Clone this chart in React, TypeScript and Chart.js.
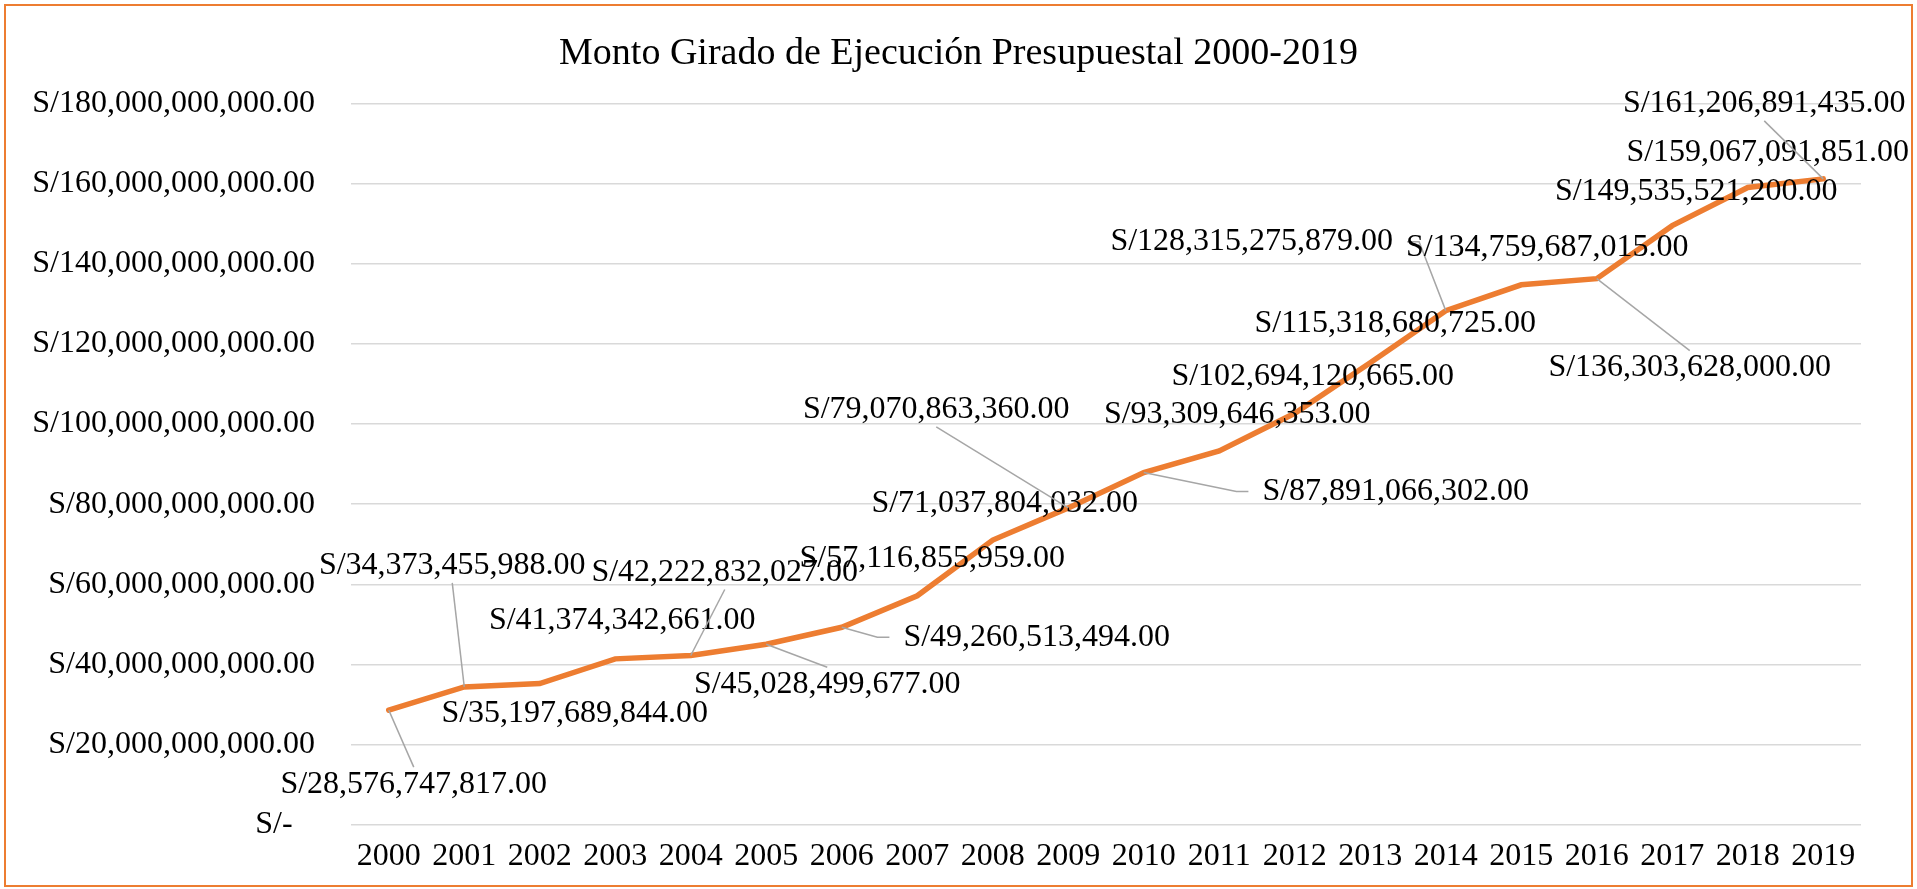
import React, { useEffect, useRef } from "react";
import { Chart, registerables } from "chart.js";

Chart.register(...registerables);

const FONT = '"Liberation Serif", "Times New Roman", serif';

const chartTitle = "Monto Girado de Ejecución Presupuestal 2000-2019";

const years = [
  "2000", "2001", "2002", "2003", "2004", "2005", "2006", "2007", "2008", "2009",
  "2010", "2011", "2012", "2013", "2014", "2015", "2016", "2017", "2018", "2019",
];

const montoGirado = [
  28576747817, 34373455988, 35197689844, 41374342661, 42222832027,
  45028499677, 49260513494, 57116855959, 71037804032, 79070863360,
  87891066302, 93309646353, 102694120665, 115318680725, 128315275879,
  134759687015, 136303628000, 149535521200, 159067091851, 161206891435,
];

const yMin = 0;
const yMax = 180000000000;
const yStep = 20000000000;

// label offsets (px) of each data label centre relative to its point
const labelOffsets: [number, number][] = [
  [25, 74], [-12, -121], [35, 30], [7, -38], [34, -83],
  [61, 40], [195, 10], [15, -37], [12, -36], [-132, -98],
  [252, 19], [18, -36], [18, -37], [25, -39], [-194, -69],
  [26, -37], [93, 89], [24, -34], [20, -35], [-59, -75],
];

function groupDigits(v: number): string {
  return Math.round(v).toString().replace(/\B(?=(\d{3})+(?!\d))/g, ",");
}

function formatSoles(v: number): string {
  if (v === 0) return "S/-  \u2009";
  return "S/" + groupDigits(v) + ".00";
}

const labelPlugin = {
  id: "leaderLabels",
  afterDatasetsDraw(chart: any) {
    const ctx = chart.ctx as CanvasRenderingContext2D;
    const meta = chart.getDatasetMeta(0);
    ctx.save();
    ctx.font = `32px ${FONT}`;
    meta.data.forEach((pt: any, i: number) => {
      const text = formatSoles(montoGirado[i]);
      const [dx, dy] = labelOffsets[i];
      const cx = pt.x + dx;
      const cy = pt.y + dy;
      const w = ctx.measureText(text).width;
      const h = 34;
      const left = cx - w / 2;
      const right = cx + w / 2;
      const top = cy - h / 2;
      const bottom = cy + h / 2;
      if (Math.hypot(dx, dy) > 55) {
        ctx.strokeStyle = "#a6a6a6";
        ctx.lineWidth = 1.5;
        ctx.beginPath();
        ctx.moveTo(pt.x, pt.y);
        if (pt.x >= left && pt.x <= right) {
          ctx.lineTo(cx, pt.y < top ? top : bottom);
        } else {
          const ex = pt.x < left ? left - 14 : right + 14;
          const elbow = pt.x < left ? ex - 12 : ex + 12;
          ctx.lineTo(elbow, cy);
          ctx.lineTo(ex, cy);
        }
        ctx.stroke();
      }
      ctx.fillStyle = "#000000";
      ctx.textAlign = "center";
      ctx.textBaseline = "middle";
      ctx.fillText(text, cx, cy);
    });
    ctx.restore();
  },
};

export default function App() {
  const canvasRef = useRef<HTMLCanvasElement | null>(null);

  useEffect(() => {
    if (!canvasRef.current) return;
    const chart = new Chart(canvasRef.current, {
      type: "line",
      data: {
        labels: years,
        datasets: [
          {
            data: montoGirado,
            borderColor: "#ED7D31",
            backgroundColor: "#ED7D31",
            borderWidth: 5.5,
            pointRadius: 0,
            pointHoverRadius: 0,
            tension: 0,
            fill: false,
            borderCapStyle: "round",
            borderJoinStyle: "miter",
          },
        ],
      },
      options: {
        responsive: false,
        animation: false,
        devicePixelRatio: 1,
        layout: { padding: { top: 0, right: 0, bottom: 0, left: 0 } },
        plugins: {
          legend: { display: false },
          tooltip: { enabled: false },
          title: {
            display: true,
            text: chartTitle,
            color: "#000000",
            font: { family: FONT, size: 38, weight: "normal" },
            padding: { top: 31, bottom: 27 },
          },
        },
        scales: {
          x: {
            offset: true,
            grid: { display: false, drawTicks: false },
            border: { display: false },
            ticks: {
              color: "#000000",
              font: { family: FONT, size: 32 },
              padding: 13,
              maxRotation: 0,
              autoSkip: false,
            },
          },
          y: {
            min: yMin,
            max: yMax,
            grid: { color: "#d9d9d9", lineWidth: 1.5, drawTicks: false },
            border: { display: false },
            ticks: {
              stepSize: yStep,
              color: "#000000",
              font: { family: FONT, size: 32 },
              padding: 36,
              callback: (v: any) => formatSoles(Number(v)),
            },
            afterFit: (s: any) => {
              s.width = 351;
            },
          },
          yRightSpace: {
            type: "linear",
            position: "right",
            display: true,
            grid: { display: false, drawTicks: false },
            border: { display: false },
            ticks: { display: false },
            afterFit: (s: any) => {
              s.width = 56;
            },
          },
        },
      },
      plugins: [labelPlugin],
    });
    return () => chart.destroy();
  }, []);

  return (
    <div style={{ position: "absolute", left: 0, top: 0, width: 1917, height: 889, background: "#ffffff" }}>
      <canvas
        ref={canvasRef}
        width={1917}
        height={889}
        style={{ position: "absolute", left: 0, top: 0, width: 1917, height: 889, display: "block" }}
      />
      <div
        style={{
          position: "absolute",
          left: 4,
          top: 4,
          width: 1909,
          height: 883,
          boxSizing: "border-box",
          border: "2px solid #ED7D31",
          pointerEvents: "none",
        }}
      />
    </div>
  );
}
